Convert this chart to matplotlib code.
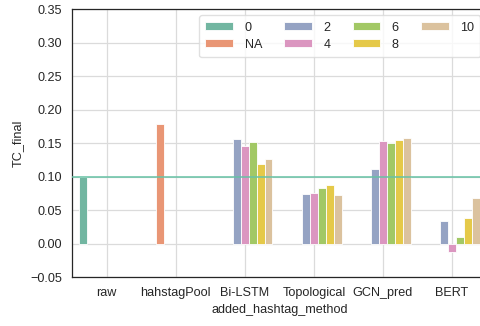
import colorsys
import numpy as np
import matplotlib
matplotlib.use("Agg")
import matplotlib.pyplot as plt
import matplotlib.colors as mcolors

# dados
metodos = ["raw", "hahstagPool", "Bi-LSTM", "Topological", "GCN_pred", "BERT"]
grupos = ["0", "NA", "2", "4", "6", "8", "10"]
nan = np.nan
tc_0 = [0.100, nan, nan, nan, nan, nan]
tc_na = [nan, 0.179, nan, nan, nan, nan]
tc_2 = [nan, nan, 0.156, 0.074, 0.111, 0.034]
tc_4 = [nan, nan, 0.145, 0.075, 0.153, -0.013]
tc_6 = [nan, nan, 0.151, 0.083, 0.150, 0.010]
tc_8 = [nan, nan, 0.119, 0.088, 0.154, 0.038]
tc_10 = [nan, nan, 0.126, 0.072, 0.158, 0.068]
linha_ref = 0.1

series = [tc_0, tc_na, tc_2, tc_4, tc_6, tc_8, tc_10]
paleta = ["#66c2a5", "#fc8d62", "#8da0cb", "#e78ac3", "#a6d854", "#ffd92f", "#e5c494"]


# mesma ideia do desaturate do seaborn
def desaturar(cor, prop=0.75):
    r, g, b = mcolors.to_rgb(cor)
    h, l, s = colorsys.rgb_to_hls(r, g, b)
    return colorsys.hls_to_rgb(h, l, s * prop)


plt.rcParams["font.family"] = ["Liberation Sans", "DejaVu Sans"]
plt.rcParams["font.size"] = 9.1
plt.rcParams["text.color"] = "0.15"
plt.rcParams["axes.labelcolor"] = "0.15"
plt.rcParams["xtick.color"] = "0.15"
plt.rcParams["ytick.color"] = "0.15"

fig = plt.figure(figsize=(4.81, 3.26), dpi=100)
ax = fig.add_axes([0.1497, 0.150, 0.862, 0.822])

n = len(grupos)
largura = 0.8 / n
x = np.arange(len(metodos))
for j, (valores, cor) in enumerate(zip(series, paleta)):
    pos = x + (j - (n - 1) / 2) * largura
    ax.bar(pos, valores, width=largura, color=desaturar(cor), edgecolor="white",
           linewidth=0.6, label=grupos[j], zorder=2)

ax.axhline(linha_ref, color="#66c2a5", linewidth=1.1, zorder=3)

ax.set_xlim(-0.5, len(metodos) - 0.5)
ax.set_ylim(-0.05, 0.35)
ax.set_yticks(np.arange(-0.05, 0.351, 0.05))
ax.set_xticks(x)
ax.set_xticklabels(metodos)
ax.tick_params(axis="both", length=0, pad=7)
ax.grid(True, color="0.86", linewidth=0.9, zorder=0)
ax.set_axisbelow(True)
for s in ax.spines.values():
    s.set_color("0.15")
    s.set_linewidth(0.9)

ax.set_xlabel("added_hashtag_method", labelpad=4)
ax.set_ylabel("TC_final", labelpad=5)

ax.legend(ncol=4, loc="upper right", handlelength=2.2, handleheight=0.6,
          handletextpad=0.9, columnspacing=1.75, edgecolor="0.85", framealpha=0.8,
          borderpad=0.5, labelspacing=0.4)

fig.savefig("out.png", dpi=100)
